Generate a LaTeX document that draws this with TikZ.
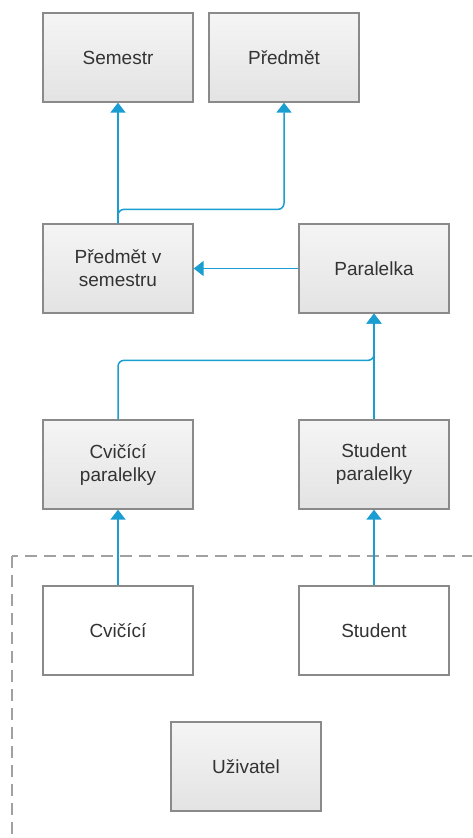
\documentclass[tikz,border=0pt]{standalone}
\usepackage{fontspec}
\setmainfont{Liberation Sans}
\usetikzlibrary{arrows.meta}
\definecolor{linkblue}{HTML}{1A9ED2}
\definecolor{boxline}{HTML}{8A8A8A}
\definecolor{boxtext}{HTML}{333333}
\begin{document}
\begin{tikzpicture}[x=1pt,y=-1pt,
		entity/.style={draw=boxline,line width=1.3pt,minimum width=150pt,minimum height=89pt,inner sep=0pt,
			align=center,text=boxtext,font=\fontsize{19}{23}\selectfont,top color=white!96!black,bottom color=white!89!black},
		plain/.style={entity,top color=white,bottom color=white},
		link/.style={draw=linkblue,line width=1.5pt,-{Triangle[width=15pt,length=10pt]}}]
			\clip (0,0) rectangle (472,838);
			\fill[white] (0,0) rectangle (472,838);
			% ramecek kolem uzivatelu
			\draw[boxline!80,line width=1.3pt,dash pattern=on 12pt off 7pt] (12,556) rectangle (490,860);
			\node[entity] (semestr) at (118,57.5) {Semestr};
			\node[entity] (predmet) at (284,57.5) {Předmět};
			\node[entity] (pvs) at (118,268.5) {Předmět v\\semestru};
			\node[entity] (paralelka) at (374,268.5) {Paralelka};
			\node[entity] (cvpar) at (118,464.5) {Cvičící\\paralelky};
			\node[entity] (stpar) at (374,464.5) {Student\\paralelky};
			\node[plain] (cvicici) at (118,630.5) {Cvičící};
			\node[plain] (student) at (374,630.5) {Student};
			\node[entity] (uzivatel) at (246,766.5) {Uživatel};
			\draw[link] (pvs.north) -- (semestr.south);
			\draw[link,rounded corners=6pt] (pvs.north) -- ++(0,-14) -| (predmet.south);
			\draw[link] (paralelka.west) -- (pvs.east);
			\draw[link,rounded corners=6pt] (cvpar.north) -- ++(0,-59) -| (paralelka.south);
			\draw[link] (stpar.north) -- (paralelka.south);
			\draw[link] (cvicici.north) -- (cvpar.south);
			\draw[link] (student.north) -- (stpar.south);
		\end{tikzpicture}
\end{document}
